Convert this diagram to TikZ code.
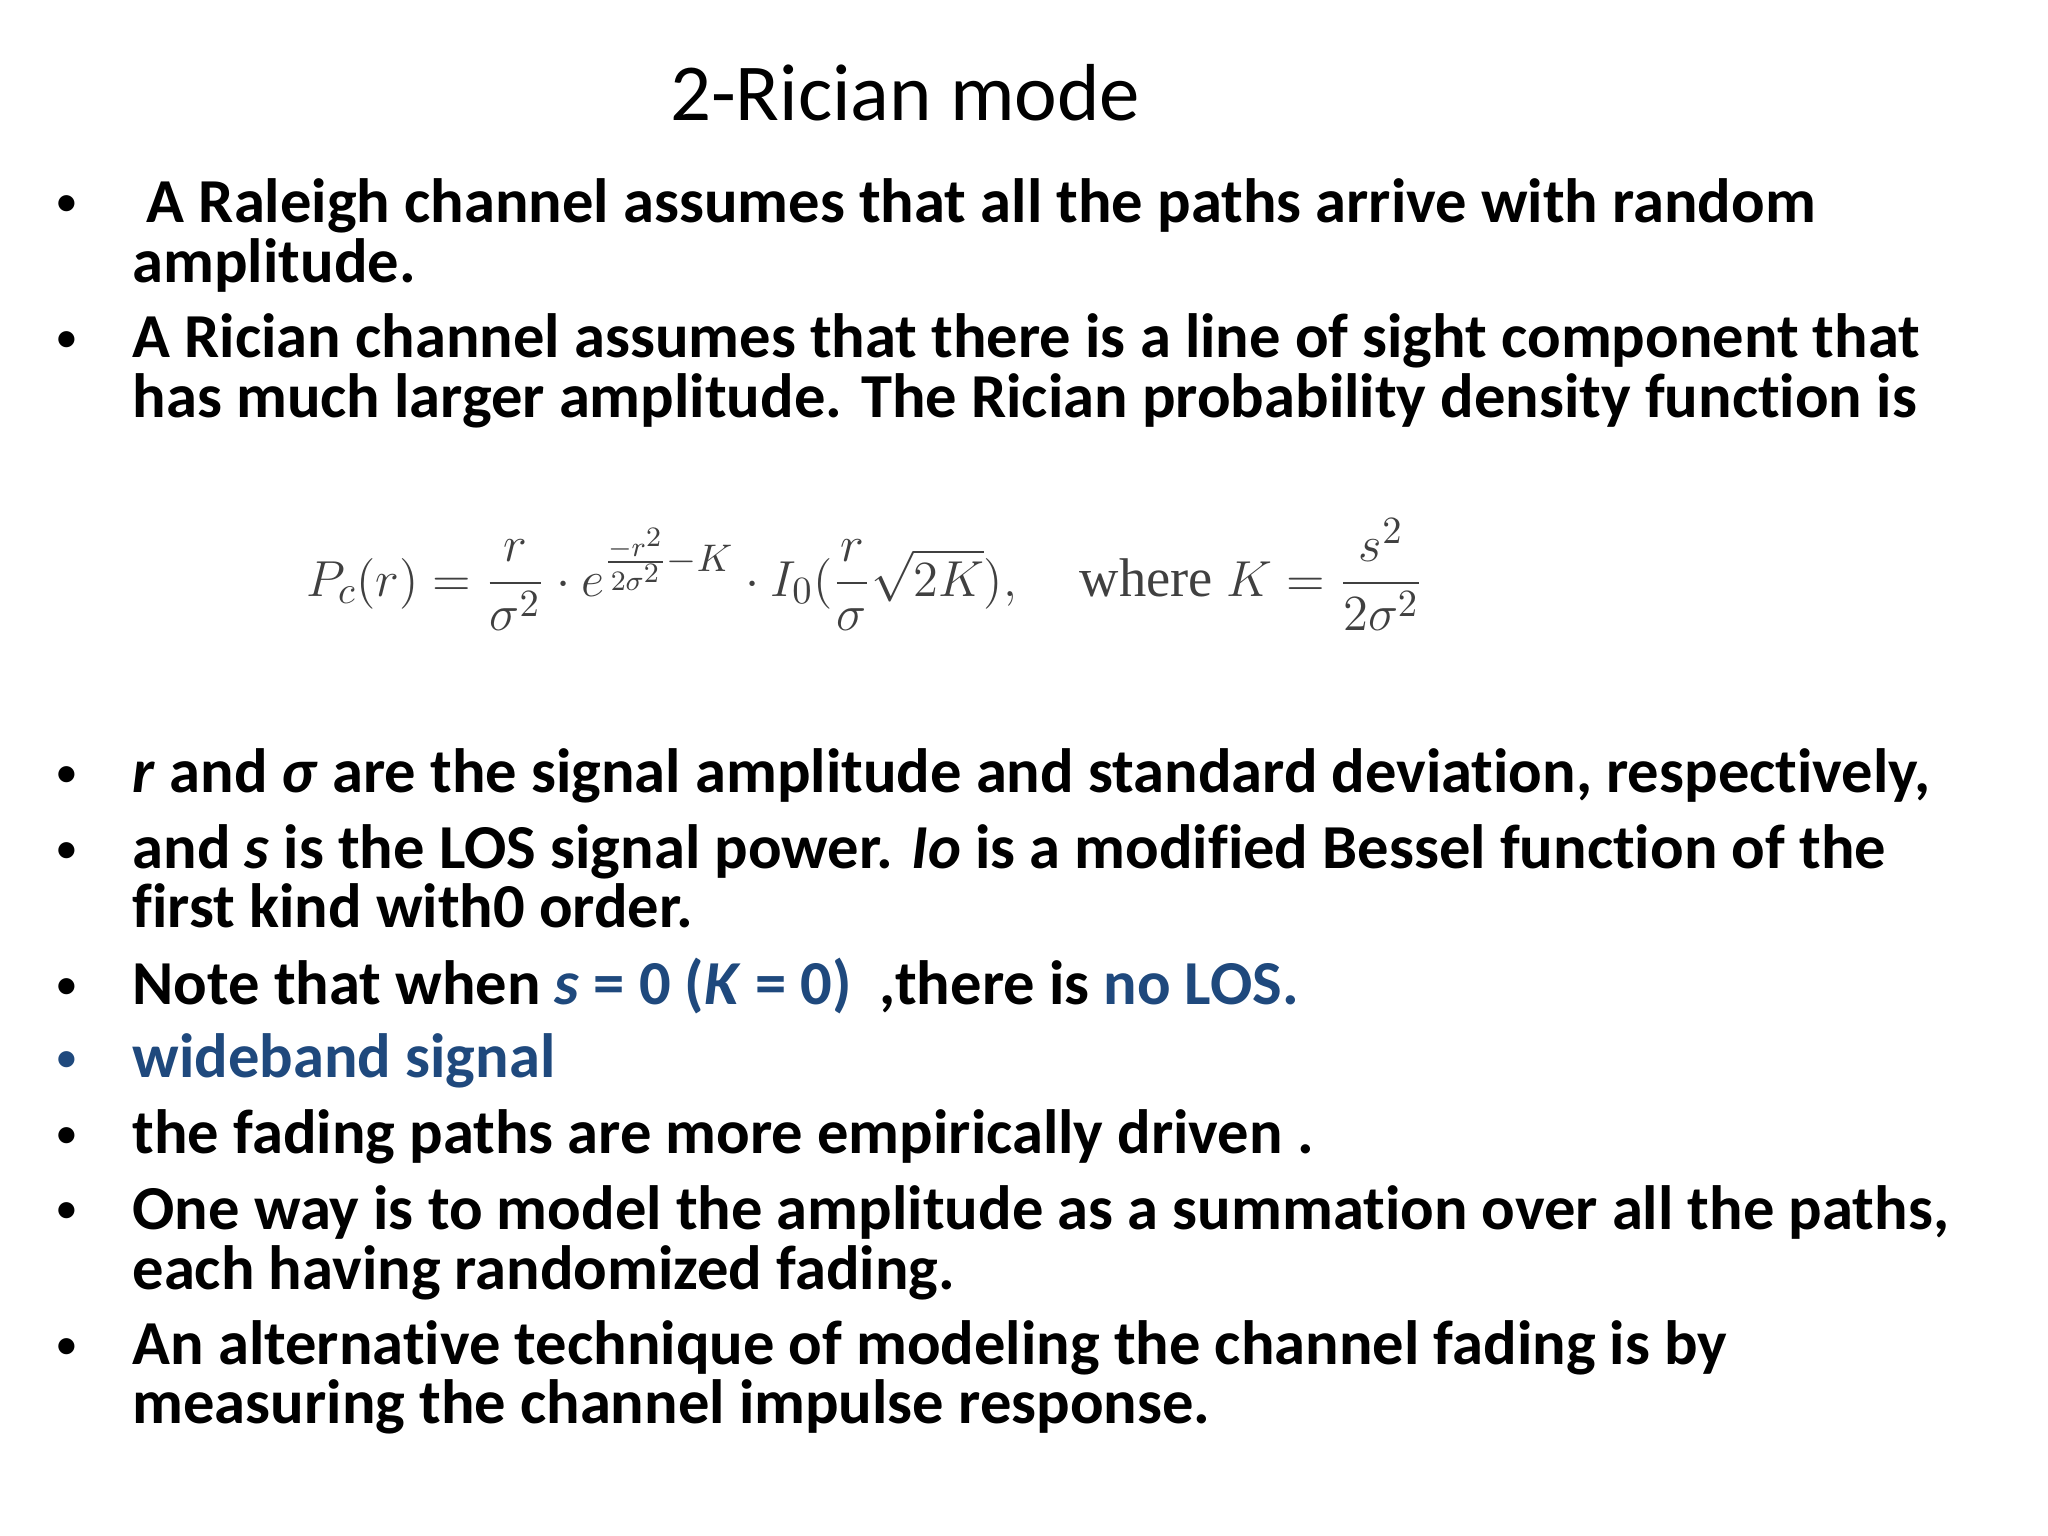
\documentclass[tikz,border=0pt]{standalone}
\usepackage{fontspec}
\setmainfont{Carlito}[Ligatures=NoCommon]
\newfontfamily\timesf{Liberation Serif}
\usepackage{amsmath}
\definecolor{hb}{RGB}{31,73,125}
\begin{document}
\begin{tikzpicture}[x=0.01306cm,y=-0.01306cm,
  ln/.style={anchor=base west,inner sep=0pt,font=\fontsize{17.8}{20}\selectfont\bfseries},
  bl/.style={anchor=base west,inner sep=0pt,font=\fontsize{13}{16}\selectfont}]
\useasboundingbox[fill=white] (0,0) rectangle (1568,1176);
\node[anchor=base,inner sep=0pt,font=\fontsize{23}{28}\selectfont] (t) at (693,92) {2-Rician mode};
\foreach \y/\c in {166/black,270/black,603/black,661/black,765/black,821/hb,879/black,937/black,1041/black}
  \node[bl,text=\c] (b\y) at (42,\y) {•};
\node[ln] (l1) at (101,170) {\ A Raleigh channel assumes that all the paths arrive with random};
\node[ln] (l2) at (101,216) {amplitude.};
\node[ln] (l3) at (101,274) {A Rician channel assumes that there is a line of sight component that};
\node[ln] (l4) at (101,320) {has much larger amplitude. The Rician probability density function is};
\node[anchor=center,inner sep=0pt,text=black!75,font=\fontsize{15.5}{18}\selectfont] (eq) at (662,440)
  {$P_c(r)=\dfrac{r}{\sigma^2}\cdot e^{\frac{-r^2}{2\sigma^2}-K}\cdot I_0(\dfrac{r}{\sigma}\sqrt{2K}),\quad \text{\timesf where } K=\dfrac{s^2}{2\sigma^2}$};
\node[ln] (l5) at (101,607) {\textit{r} and \textit{σ} are the signal amplitude and standard deviation, respectively,};
\node[ln] (l6) at (101,665) {and \textit{s} is the LOS signal power. \textit{Io} is a modified Bessel function of the};
\node[ln] (l7) at (101,710) {first kind with0 order.};
\node[ln] (l8) at (101,769) {Note that when \textcolor{hb}{\textit{s} = 0 (\textit{K} = 0)}\ \ ,there is \textcolor{hb}{no LOS.}};
\node[ln,text=hb] (l9) at (101,825) {wideband signal};
\node[ln] (l10) at (101,883) {the fading paths are more empirically driven .};
\node[ln] (l11) at (101,941) {One way is to model the amplitude as a summation over all the paths,};
\node[ln] (l12) at (101,987) {each having randomized fading.};
\node[ln] (l13) at (101,1045) {An alternative technique of modeling the channel fading is by};
\node[ln] (l14) at (101,1090) {measuring the channel impulse response.};
\end{tikzpicture}
\end{document}
